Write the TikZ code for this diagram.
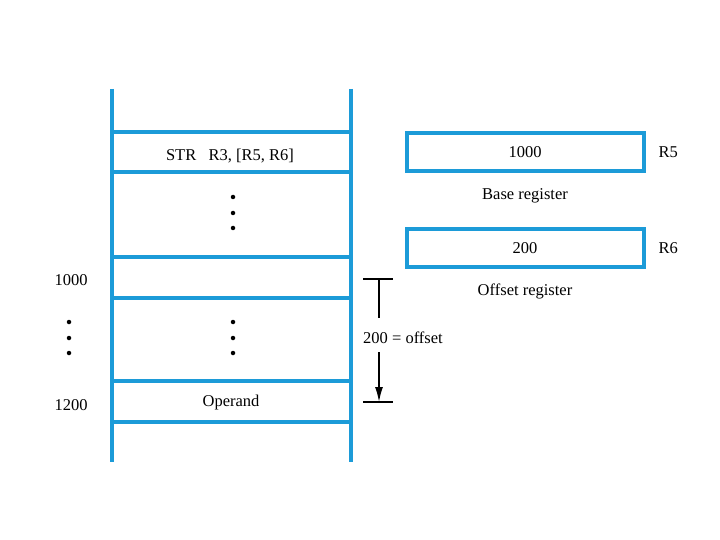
\documentclass[tikz,border=0pt]{standalone}
\usepackage{fontspec}
\setmainfont{Liberation Serif}
\usetikzlibrary{arrows.meta, positioning}
\definecolor{memblue}{HTML}{1C9BD8}

\begin{document}
\begin{tikzpicture}[
    x=1pt, y=-1pt,
    wall/.style   = {draw=memblue, line width=4pt},
    reg/.style    = {rectangle, draw=memblue, line width=4pt, minimum width=237pt,
                     minimum height=38pt, font=\fontsize{16.5}{19}\selectfont},
    txt/.style    = {font=\fontsize{16.5}{19}\selectfont, inner sep=1pt},
    dotcol/.style = {circle, fill=black, inner sep=0pt, minimum size=4.5pt},
    dim/.style    = {draw=black, line width=1.6pt},
    darr/.style   = {-{Latex[length=15pt,width=8pt]}, line width=1.6pt}
  ]
  \useasboundingbox (0,0) rectangle (720,540);

  % ── Memory column ──────────────────────────────────────────────────────────
  \draw[wall] (112,89) -- (112,462);
  \draw[wall] (351,89) -- (351,462);
  \foreach \yy in {132,172,257,298,381,422}
    \draw[wall] (110,\yy) -- (353,\yy);

  \node[txt] (instr)   at (230,156) {STR\ \ \ R3, [R5, R6]};
  \node[txt] (operand) at (231,403) {Operand};
  \foreach \yy [count=\i] in {197,213,228}
    \node[dotcol] (dA\i) at (233,\yy) {};
  \foreach \yy [count=\i] in {322,338,353}
    \node[dotcol] (dB\i) at (233,\yy) {};

  % ── Address labels ─────────────────────────────────────────────────────────
  \node[txt] (addr1000) at (71,280) {1000};
  \node[txt] (addr1200) at (71,405) {1200};
  \foreach \yy [count=\i] in {322,338,353}
    \node[dotcol] (dC\i) at (69,\yy) {};

  % ── Registers ──────────────────────────────────────────────────────────────
  \node[reg] (r5box) at (525,152) {1000};
  \node[reg] (r6box) at (525,248) {200};
  \node[txt, right=12pt of r5box] (r5name) {R5};
  \node[txt, right=12pt of r6box] (r6name) {R6};
  \node[txt, below=14pt of r5box] (baselbl) {Base register};
  \node[txt, below=14pt of r6box] (offlbl)  {Offset register};

  % ── Offset dimension ───────────────────────────────────────────────────────
  \coordinate (ttop) at (379,279);
  \coordinate (tbot) at (379,402);
  \draw[dim] (363,279) -- (393,279);
  \draw[dim] (363,402) -- (393,402);
  \node[txt, anchor=west] (offset) at (362,338) {200 = offset};
  \draw[dim] (ttop) -- (379,318);
  \draw[darr] (379,352) -- (tbot);

\end{tikzpicture}
\end{document}
